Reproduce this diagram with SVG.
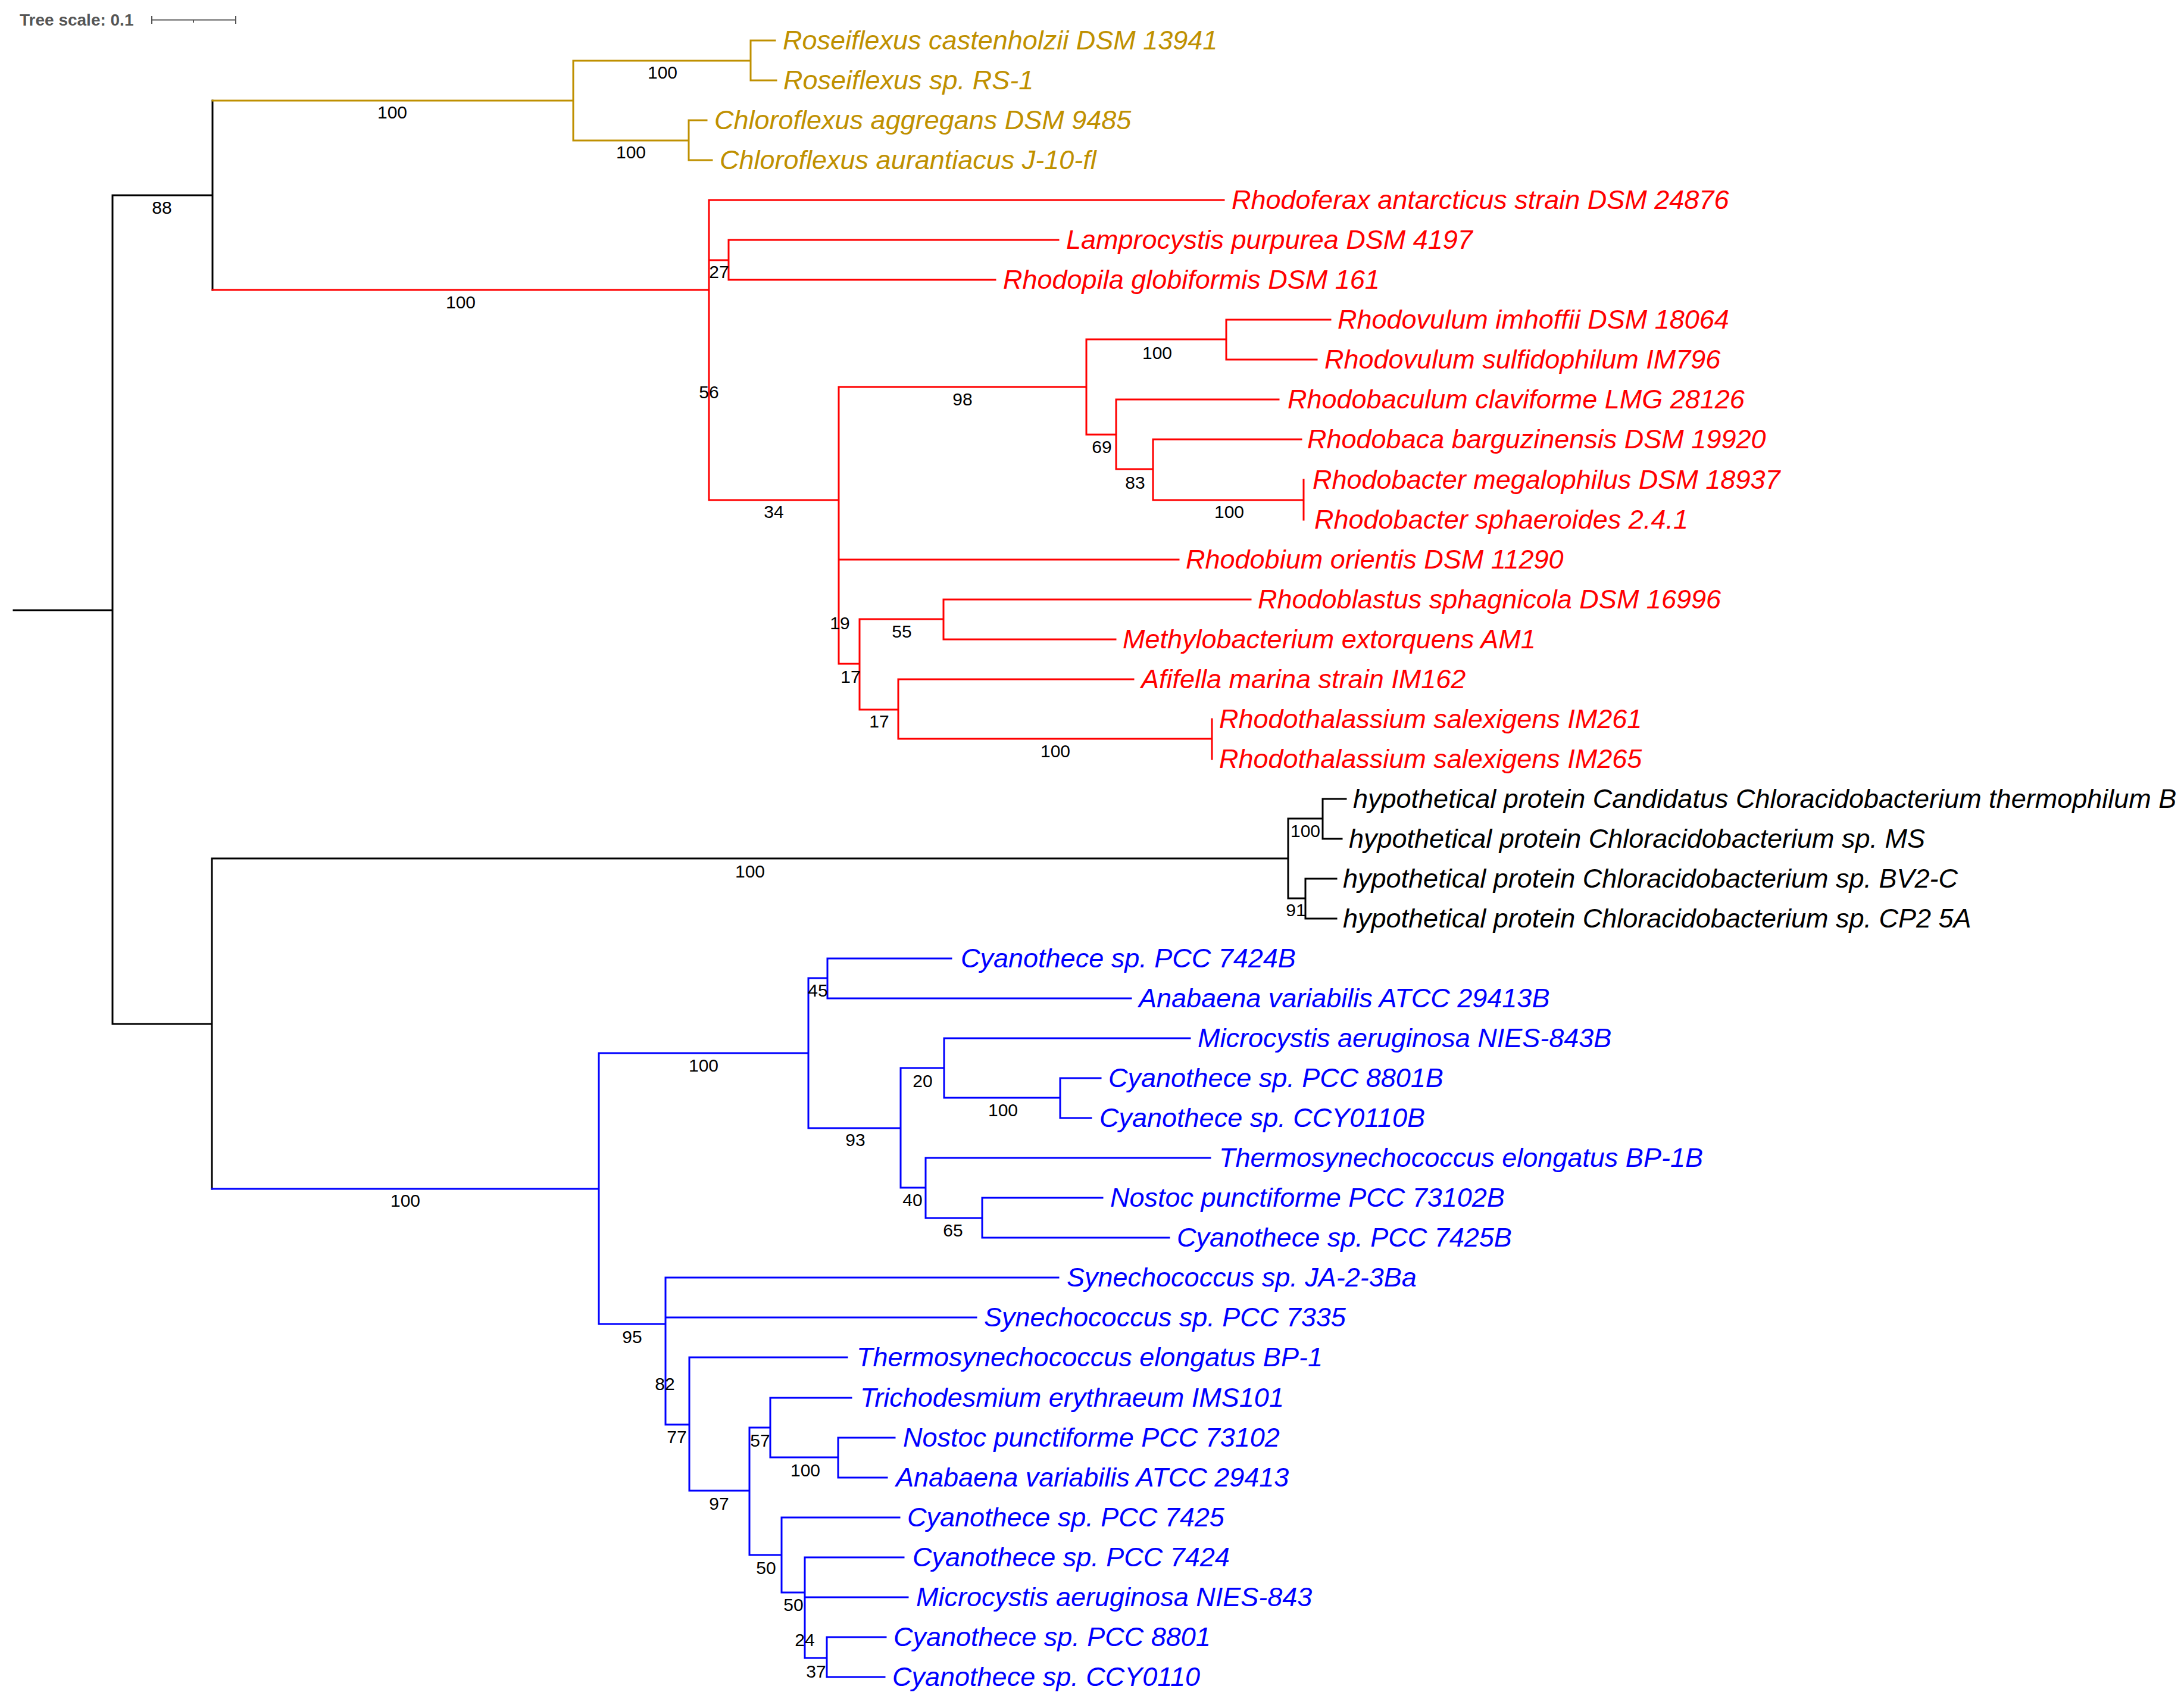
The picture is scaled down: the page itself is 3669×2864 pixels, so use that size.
<svg xmlns="http://www.w3.org/2000/svg" width="3669" height="2864" viewBox="0 0 3669 2864">
<style>
.br{fill:none;stroke-width:3;stroke-linecap:square}
.k{stroke:#000}.g{stroke:#BF9000}.r{stroke:#FF0000}.b{stroke:#0000FF}
.lf{font-family:"Liberation Sans",Arial,sans-serif;font-style:italic;font-size:45px}
.tg{fill:#BF9000}.tr{fill:#FF0000}.tk{fill:#000}.tb{fill:#0000FF}
.bs{font-family:"Liberation Sans",Arial,sans-serif;font-size:30px;fill:#000;text-anchor:middle}
</style>
<rect width="3669" height="2864" fill="#fff"/>
<g id="scale">
<text x="33" y="43" font-family="Liberation Sans, Arial, sans-serif" font-weight="bold" font-size="28" fill="#555">Tree scale: 0.1</text>
<path d="M255 33.5H396M255 27V40M396 27V40M325 33.5V38" stroke="#555" stroke-width="2" fill="none"/>
</g>
<g id="connectors">
<path class="br k" d="M23 1025H189M189 328V1720M189 328H357M357 169V487M189 1720H356M356 1442V1997M356 1442H2164M2164 1375V1509M2164 1375H2222M2222 1342V1409M2222 1342H2261M2222 1409H2254M2164 1509H2193M2193 1476V1543M2193 1476H2245M2193 1543H2245"/>
<path class="br g" d="M357 169H963M963 102V236M963 102H1261M1261 68V135M1261 68H1302M1261 135H1304M963 236H1157M1157 202V269M1157 202H1187M1157 269H1196"/>
<path class="br r" d="M357 487H1191M1191 336V840M1191 336H2056M1191 437H1224M1224 403V470M1224 403H1778M1224 470H1672M1191 840H1409M1409 650V1115M1409 650H1825M1825 570V730M1825 570H2060M2060 537V604M2060 537H2235M2060 604H2212M1825 730H1875M1875 671V788M1875 671H2148M1875 788H1937M1937 738V840M1937 738H2186M1937 840H2190M2190 806V873M1409 940H1980M1409 1115H1444M1444 1040V1192M1444 1040H1585M1585 1007V1074M1585 1007H2101M1585 1074H1874M1444 1192H1509M1509 1141V1241M1509 1141H1904M1509 1241H2036M2036 1208V1275"/>
<path class="br b" d="M356 1997H1006M1006 1769V2224M1006 1769H1358M1358 1643V1895M1358 1643H1390M1390 1610V1677M1390 1610H1598M1390 1677H1900M1358 1895H1513M1513 1794V1995M1513 1794H1586M1586 1744V1844M1586 1744H1999M1586 1844H1781M1781 1811V1878M1781 1811H1849M1781 1878H1833M1513 1995H1555M1555 1945V2046M1555 1945H2033M1555 2046H1650M1650 2012V2079M1650 2012H1852M1650 2079H1964M1006 2224H1118M1118 2146V2393M1118 2146H1778M1118 2213H1640M1118 2393H1158M1158 2280V2504M1158 2280H1423M1158 2504H1259M1259 2398V2612M1259 2398H1294M1294 2348V2448M1294 2348H1430M1294 2448H1408M1408 2415V2482M1408 2415H1503M1408 2482H1490M1259 2612H1313M1313 2549V2675M1313 2549H1511M1313 2675H1352M1352 2616V2785M1352 2616H1518M1352 2683H1525M1352 2785H1389M1389 2750V2817M1389 2750H1488M1389 2817H1486"/>
</g>
<g id="leaves">
<g id="leaf-0"><text class="lf tg" x="1315" y="83">Roseiflexus castenholzii DSM 13941</text></g>
<g id="leaf-1"><text class="lf tg" x="1316" y="150">Roseiflexus sp. RS-1</text></g>
<g id="leaf-2"><text class="lf tg" x="1200" y="217">Chloroflexus aggregans DSM 9485</text></g>
<g id="leaf-3"><text class="lf tg" x="1209" y="284">Chloroflexus aurantiacus J-10-fl</text></g>
<g id="leaf-4"><text class="lf tr" x="2069" y="351">Rhodoferax antarcticus strain DSM 24876</text></g>
<g id="leaf-5"><text class="lf tr" x="1791" y="418">Lamprocystis purpurea DSM 4197</text></g>
<g id="leaf-6"><text class="lf tr" x="1685" y="485">Rhodopila globiformis DSM 161</text></g>
<g id="leaf-7"><text class="lf tr" x="2247" y="552">Rhodovulum imhoffii DSM 18064</text></g>
<g id="leaf-8"><text class="lf tr" x="2225" y="619">Rhodovulum sulfidophilum IM796</text></g>
<g id="leaf-9"><text class="lf tr" x="2163" y="686">Rhodobaculum claviforme LMG 28126</text></g>
<g id="leaf-10"><text class="lf tr" x="2196" y="753">Rhodobaca barguzinensis DSM 19920</text></g>
<g id="leaf-11"><text class="lf tr" x="2205" y="821">Rhodobacter megalophilus DSM 18937</text></g>
<g id="leaf-12"><text class="lf tr" x="2208" y="888">Rhodobacter sphaeroides 2.4.1</text></g>
<g id="leaf-13"><text class="lf tr" x="1992" y="955">Rhodobium orientis DSM 11290</text></g>
<g id="leaf-14"><text class="lf tr" x="2113" y="1022">Rhodoblastus sphagnicola DSM 16996</text></g>
<g id="leaf-15"><text class="lf tr" x="1886" y="1089">Methylobacterium extorquens AM1</text></g>
<g id="leaf-16"><text class="lf tr" x="1917" y="1156">Afifella marina strain IM162</text></g>
<g id="leaf-17"><text class="lf tr" x="2048" y="1223">Rhodothalassium salexigens IM261</text></g>
<g id="leaf-18"><text class="lf tr" x="2048" y="1290">Rhodothalassium salexigens IM265</text></g>
<g id="leaf-19"><text class="lf tk" x="2273" y="1357">hypothetical protein Candidatus Chloracidobacterium thermophilum B</text></g>
<g id="leaf-20"><text class="lf tk" x="2266" y="1424">hypothetical protein Chloracidobacterium sp. MS</text></g>
<g id="leaf-21"><text class="lf tk" x="2256" y="1491">hypothetical protein Chloracidobacterium sp. BV2-C</text></g>
<g id="leaf-22"><text class="lf tk" x="2256" y="1558">hypothetical protein Chloracidobacterium sp. CP2 5A</text></g>
<g id="leaf-23"><text class="lf tb" x="1614" y="1625">Cyanothece sp. PCC 7424B</text></g>
<g id="leaf-24"><text class="lf tb" x="1913" y="1692">Anabaena variabilis ATCC 29413B</text></g>
<g id="leaf-25"><text class="lf tb" x="2012" y="1759">Microcystis aeruginosa NIES-843B</text></g>
<g id="leaf-26"><text class="lf tb" x="1862" y="1826">Cyanothece sp. PCC 8801B</text></g>
<g id="leaf-27"><text class="lf tb" x="1847" y="1893">Cyanothece sp. CCY0110B</text></g>
<g id="leaf-28"><text class="lf tb" x="2048" y="1960">Thermosynechococcus elongatus BP-1B</text></g>
<g id="leaf-29"><text class="lf tb" x="1865" y="2027">Nostoc punctiforme PCC 73102B</text></g>
<g id="leaf-30"><text class="lf tb" x="1977" y="2094">Cyanothece sp. PCC 7425B</text></g>
<g id="leaf-31"><text class="lf tb" x="1792" y="2161">Synechococcus sp. JA-2-3Ba</text></g>
<g id="leaf-32"><text class="lf tb" x="1653" y="2228">Synechococcus sp. PCC 7335</text></g>
<g id="leaf-33"><text class="lf tb" x="1439" y="2295">Thermosynechococcus elongatus BP-1</text></g>
<g id="leaf-34"><text class="lf tb" x="1445" y="2363">Trichodesmium erythraeum IMS101</text></g>
<g id="leaf-35"><text class="lf tb" x="1517" y="2430">Nostoc punctiforme PCC 73102</text></g>
<g id="leaf-36"><text class="lf tb" x="1505" y="2497">Anabaena variabilis ATCC 29413</text></g>
<g id="leaf-37"><text class="lf tb" x="1524" y="2564">Cyanothece sp. PCC 7425</text></g>
<g id="leaf-38"><text class="lf tb" x="1533" y="2631">Cyanothece sp. PCC 7424</text></g>
<g id="leaf-39"><text class="lf tb" x="1539" y="2698">Microcystis aeruginosa NIES-843</text></g>
<g id="leaf-40"><text class="lf tb" x="1501" y="2765">Cyanothece sp. PCC 8801</text></g>
<g id="leaf-41"><text class="lf tb" x="1499" y="2832">Cyanothece sp. CCY0110</text></g>
</g>
<g id="support">
<g id="n1"><text class="bs" x="272" y="359">88</text></g>
<g id="n2"><text class="bs" x="659" y="199">100</text></g>
<g id="n3"><text class="bs" x="1113" y="132">100</text></g>
<g id="n4"><text class="bs" x="1060" y="266">100</text></g>
<g id="n5"><text class="bs" x="774" y="518">100</text></g>
<g id="n6"><text class="bs" x="1208" y="467">27</text></g>
<g id="n7"><text class="bs" x="1191" y="669">56</text></g>
<g id="n8"><text class="bs" x="1300" y="870">34</text></g>
<g id="n9"><text class="bs" x="1617" y="681">98</text></g>
<g id="n10"><text class="bs" x="1944" y="603">100</text></g>
<g id="n11"><text class="bs" x="1851" y="761">69</text></g>
<g id="n12"><text class="bs" x="1907" y="821">83</text></g>
<g id="n13"><text class="bs" x="2065" y="870">100</text></g>
<g id="n14"><text class="bs" x="1411" y="1057">19</text></g>
<g id="n15"><text class="bs" x="1429" y="1147">17</text></g>
<g id="n16"><text class="bs" x="1515" y="1071">55</text></g>
<g id="n17"><text class="bs" x="1477" y="1222">17</text></g>
<g id="n18"><text class="bs" x="1773" y="1272">100</text></g>
<g id="n19"><text class="bs" x="1260" y="1474">100</text></g>
<g id="n20"><text class="bs" x="2193" y="1406">100</text></g>
<g id="n21"><text class="bs" x="2177" y="1539">91</text></g>
<g id="n22"><text class="bs" x="681" y="2027">100</text></g>
<g id="n23"><text class="bs" x="1182" y="1800">100</text></g>
<g id="n24"><text class="bs" x="1374" y="1674">45</text></g>
<g id="n25"><text class="bs" x="1437" y="1925">93</text></g>
<g id="n26"><text class="bs" x="1550" y="1826">20</text></g>
<g id="n27"><text class="bs" x="1685" y="1875">100</text></g>
<g id="n28"><text class="bs" x="1533" y="2026">40</text></g>
<g id="n29"><text class="bs" x="1601" y="2077">65</text></g>
<g id="n30"><text class="bs" x="1062" y="2256">95</text></g>
<g id="n31"><text class="bs" x="1117" y="2335">82</text></g>
<g id="n32"><text class="bs" x="1137" y="2424">77</text></g>
<g id="n33"><text class="bs" x="1208" y="2536">97</text></g>
<g id="n34"><text class="bs" x="1277" y="2430">57</text></g>
<g id="n35"><text class="bs" x="1353" y="2480">100</text></g>
<g id="n36"><text class="bs" x="1287" y="2644">50</text></g>
<g id="n37"><text class="bs" x="1333" y="2706">50</text></g>
<g id="n38"><text class="bs" x="1352" y="2765">24</text></g>
<g id="n39"><text class="bs" x="1371" y="2818">37</text></g>
</g>
</svg>
